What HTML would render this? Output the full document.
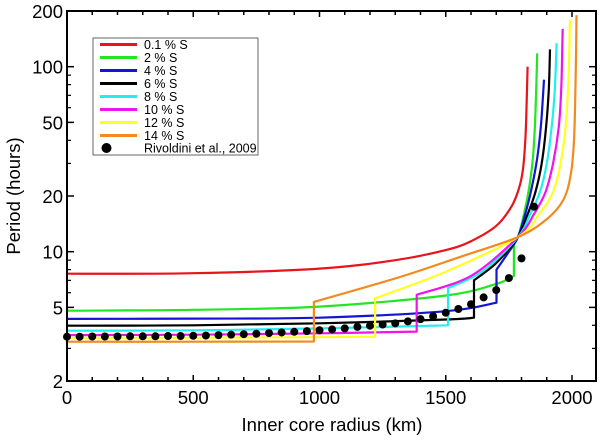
<!DOCTYPE html>
<html><head><meta charset="utf-8"><style>
body{margin:0;background:#fff;}
svg text{font-family:"Liberation Sans",Arial,sans-serif;fill:#000;}
</style></head><body>
<svg id="chart" width="600" height="437" viewBox="0 0 600 437" xmlns="http://www.w3.org/2000/svg">
<g id="marks"></g>
<g id="axes"></g>
<g id="legend"></g>
</svg>
<script>
const xTicks=[0,500,1000,1500,2000];
const yTicks=[2,5,10,20,50,100,200];
const yMinor=[3,4,6,7,8,9,30,40,60,70,80,90];
const seriesNames=["0.1 % S","2 % S","4 % S","6 % S","8 % S","10 % S","12 % S","14 % S"];
const seriesColors=["#e8141c","#22e622","#1414d2","#000000","#22eeee","#ee14ee","#ffff22","#f28a1e"];
const red=[[0,7.6],[500,7.65],[1000,8.1],[1300,9.0],[1500,10.2],[1600,11.4],[1700,13.8],[1760,17.5],[1790,22],[1806,28],[1815,40],[1820,60],[1824,100]];
const green=[[0,4.8],[500,4.85],[1000,5.05],[1500,5.8],[1700,6.7],[1770,7.4],[1770,11.2],[1786,12],[1810,16],[1830,22],[1845,32],[1855,55],[1862,118]];
const blue=[[0,4.33],[500,4.35],[1000,4.4],[1500,4.77],[1701,5.3],[1701,8.0],[1750,10],[1786,12],[1815,16],[1840,22],[1862,32],[1878,50],[1889,85]];
const black=[[0,3.98],[500,4.0],[1000,4.1],[1500,4.3],[1612,4.4],[1612,7.0],[1700,8.7],[1786,12],[1825,16],[1855,21],[1880,30],[1898,48],[1908,75],[1913,124]];
const cyan=[[0,3.74],[500,3.76],[1000,3.85],[1509,4.0],[1509,6.35],[1650,7.9],[1786,12],[1835,16],[1873,21],[1900,30],[1920,48],[1932,75],[1939,134]];
const magenta=[[0,3.54],[500,3.56],[1000,3.62],[1385,3.7],[1385,5.85],[1600,7.4],[1786,12],[1850,16],[1895,21],[1925,30],[1948,48],[1958,80],[1963,160]];
const yellow=[[0,3.42],[500,3.43],[1000,3.45],[1220,3.47],[1220,5.6],[1500,7.8],[1786,12],[1870,16],[1925,21],[1955,30],[1975,48],[1986,85],[1992,180]];
const orange=[[0,3.26],[500,3.26],[978,3.27],[978,5.35],[1319,7.3],[1560,9.4],[1786,12],[1900,15],[1965,19],[1995,26],[2008,40],[2014,80],[2018,190]];
const seriesData=[red,green,blue,black,cyan,magenta,yellow,orange];
const dotR=[0,50,100,150,200,250,300,350,400,450,500,550,600,650,700,750,800,850,900,950,1000,1050,1100,1150,1200,1250,1300,1350,1400,1450,1500,1550,1600,1650,1700,1750,1800,1850];
const dotP=[3.47,3.47,3.48,3.48,3.48,3.49,3.49,3.49,3.5,3.5,3.51,3.52,3.54,3.56,3.58,3.6,3.63,3.66,3.69,3.72,3.76,3.8,3.85,3.92,3.98,4.04,4.1,4.2,4.32,4.48,4.68,4.9,5.2,5.66,6.2,7.2,9.2,17.5];

const X0=67,X1=596,Y0=11,Y1=381;
const xs=r=>67+r*0.2525;
const ys=p=>381-185*Math.log10(p/2);
const NS="http://www.w3.org/2000/svg";
function mk(tag,attrs,parent){const e=document.createElementNS(NS,tag);for(const k in attrs)e.setAttribute(k,attrs[k]);parent.appendChild(e);return e;}
const marks=document.getElementById('marks'),axes=document.getElementById('axes'),legend=document.getElementById('legend');

function smoothPath(d){
  const pts=d.map(p=>[xs(p[0]),ys(p[1])]);
  // split into runs at vertical jumps
  const runs=[];let cur=[pts[0]];
  for(let i=1;i<pts.length;i++){
    if(d[i][0]===d[i-1][0]){runs.push(cur);cur=[pts[i]];}else cur.push(pts[i]);
  }
  runs.push(cur);
  let s='M'+pts[0][0].toFixed(1)+','+pts[0][1].toFixed(1);
  runs.forEach((run,ri)=>{
    if(ri>0)s+=' L'+run[0][0].toFixed(1)+','+run[0][1].toFixed(1);
    for(let i=0;i<run.length-1;i++){
      const p0=run[Math.max(0,i-1)],p1=run[i],p2=run[i+1],p3=run[Math.min(run.length-1,i+2)];
      const c1=[p1[0]+(p2[0]-p0[0])/6,p1[1]+(p2[1]-p0[1])/6];
      const c2=[p2[0]-(p3[0]-p1[0])/6,p2[1]-(p3[1]-p1[1])/6];
      s+=' C'+c1[0].toFixed(1)+','+c1[1].toFixed(1)+' '+c2[0].toFixed(1)+','+c2[1].toFixed(1)+' '+p2[0].toFixed(1)+','+p2[1].toFixed(1);
    }
  });
  return s;
}

seriesData.forEach((d,i)=>{
  const pl=mk('path',{d:smoothPath(d),fill:'none',stroke:seriesColors[i],'stroke-width':2.2,'stroke-linejoin':'round'},marks);
  
  
});
dotR.forEach((r,i)=>{
  const c=mk('circle',{cx:xs(r),cy:ys(dotP[i]),r:4,fill:'#000'},marks);
  
  
});

const fr=mk('rect',{x:X0,y:Y0,width:X1-X0,height:Y1-Y0,fill:'none',stroke:'#000','stroke-width':2},axes);


for(let r=0;r<=2000;r+=100){
  const x=xs(r),L=(r%500===0)?6:4;
  mk('line',{x1:x,y1:Y1,x2:x,y2:Y1-L,stroke:'#000','stroke-width':1.5},axes);
  mk('line',{x1:x,y1:Y0,x2:x,y2:Y0+L,stroke:'#000','stroke-width':1.5},axes);
}
xTicks.forEach(t=>{
  const tx=mk('text',{x:xs(t),y:404,'font-size':18.5,'text-anchor':'middle'},axes);
  tx.textContent=t;
  
  
});
yTicks.forEach(t=>{
  const y=ys(t);
  mk('line',{x1:X0,y1:y,x2:X0+7,y2:y,stroke:'#000','stroke-width':1.5},axes);
  mk('line',{x1:X1,y1:y,x2:X1-7,y2:y,stroke:'#000','stroke-width':1.5},axes);
  const tx=mk('text',{x:63,y:y+7,'font-size':18.5,'text-anchor':'end'},axes);
  tx.textContent=t;
  
  
});
yMinor.forEach(t=>{
  const y=ys(t);
  mk('line',{x1:X0,y1:y,x2:X0+4,y2:y,stroke:'#000','stroke-width':1.2},axes);
  mk('line',{x1:X1,y1:y,x2:X1-4,y2:y,stroke:'#000','stroke-width':1.2},axes);
});
const xl=mk('text',{x:332,y:431,'font-size':18.5,'text-anchor':'middle'},axes);
xl.textContent='Inner core radius (km)';


const yl=mk('text',{x:0,y:0,'font-size':18.5,'text-anchor':'middle',transform:'translate(20,196) rotate(-90)'},axes);
yl.textContent='Period (hours)';



const lb=mk('rect',{x:93,y:38,width:165,height:117,fill:'#fff',stroke:'#666','stroke-width':1},legend);


seriesNames.forEach((n,i)=>{
  const y=44.5+i*13;
  const g=mk('g',{},legend);
  
  
  mk('line',{x1:100,y1:y,x2:137,y2:y,stroke:seriesColors[i],'stroke-width':3},g);
  const t=mk('text',{x:144,y:y+4.5,'font-size':12.5},g);
  t.textContent=n;
});
const g2=mk('g',{},legend);


mk('circle',{cx:106.5,cy:148,r:5,fill:'#000'},g2);
const t2=mk('text',{x:144,y:152.5,'font-size':12.5},g2);
t2.textContent='Rivoldini et al., 2009';
</script>
</body></html>
